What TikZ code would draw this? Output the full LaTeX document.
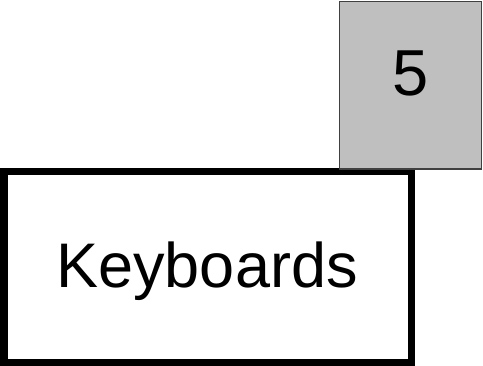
\documentclass[tikz,border=0pt]{standalone}
\usepackage{fontspec}
\setmainfont{Liberation Sans}
\begin{document}
\begin{tikzpicture}[x=1pt,y=-1pt,
  kbbox/.style={draw=black,line width=7pt,fill=white},
  graybox/.style={draw=black!75,line width=1.5pt,fill=black!25},
  bigtext/.style={font=\fontsize{63}{70}\selectfont,inner sep=0pt,anchor=base}]
\useasboundingbox (0,0) rectangle (483,365);
\draw[kbbox] (4,171) rectangle (411,362);
\draw[graybox] (339.5,1.5) rectangle (481.5,169);
\node[bigtext] (kb) at (207,287) {Keyboards};
\node[bigtext,font=\fontsize{65}{70}\selectfont] (num) at (410.5,95) {5};
\end{tikzpicture}
\end{document}
